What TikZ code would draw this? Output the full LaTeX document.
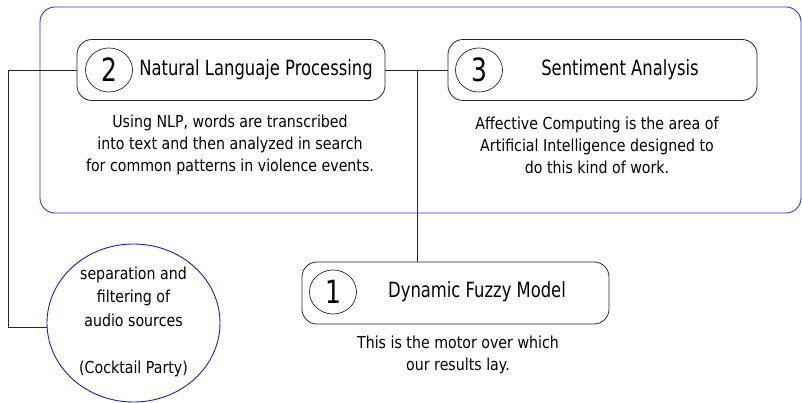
\documentclass[tikz,border=0pt]{standalone}
\usepackage{fontspec}
\setmainfont[FakeStretch=0.78]{DejaVu Sans}
\newfontfamily\descfont[FakeStretch=0.86]{DejaVu Sans}
\usetikzlibrary{shapes.geometric}
\definecolor{frameblue}{RGB}{50,50,200}
\definecolor{circblue}{RGB}{30,30,190}
\tikzset{
  box/.style={draw=black!85, line width=0.8pt, rounded corners=15pt, minimum width=#1, minimum height=61pt, inner sep=0pt},
  numring/.style={draw=black!85, line width=0.7pt, ellipse, minimum width=47pt, minimum height=44pt, inner sep=0pt, font=\fontsize{32}{32}\selectfont},
  title/.style={font=\fontsize{21}{24}\selectfont, inner sep=0pt},
  desc/.style={font=\descfont\fontsize{16.5}{22}\selectfont, align=center, inner sep=0pt},
  wire/.style={draw=black!85, line width=0.8pt},
}
\begin{document}
\begin{tikzpicture}[x=1pt,y=-1pt]
\useasboundingbox (0,0) rectangle (802,403);
% blue frame
\draw[frameblue, line width=0.9pt, rounded corners=15pt] (40,7) rectangle (801,213);
% box 2
\node[box=308pt] (b2) at (231,70) {};
\node[numring] (n2) at (109,70) {2};
\node[title] (t2) at (256,70) {Natural Languaje Processing};
\node[desc] (d2) at (230,145) {Using NLP, words are transcribed\\into text and then analyzed in search\\for common patterns in violence events.};
% box 3
\node[box=309pt] (b3) at (602.5,70) {};
\node[numring] (n3) at (479,70) {3};
\node[title] (t3) at (620,70) {Sentiment Analysis};
\node[desc] (d3) at (597,145) {Affective Computing is the area of\\Artificial Intelligence designed to\\do this kind of work.};
% box 1
\node[box=307pt, minimum height=62pt] (b1) at (455.5,293) {};
\node[numring] (n1) at (333,292) {1};
\node[title] (t1) at (477,292) {Dynamic Fuzzy Model};
\node[desc] (d1) at (458,354.5) {This is the motor over which\\our results lay.};
% circle
\node[draw=circblue, line width=0.9pt, ellipse, minimum width=173pt, minimum height=158pt, inner sep=0pt] (c) at (133.5,323) {};
\node[font=\descfont\fontsize{16.5}{23.5}\selectfont, align=center, inner sep=0pt] (ct) at (133.5,321.5) {separation and\\filtering of\\audio sources\\[23.5pt](Cocktail Party)};
% connectors
\coordinate (j) at (417,70);
\coordinate (l1) at (8,70);
\coordinate (l2) at (8,327);
\draw[wire] (b2.east) -- (b3.west);
\draw[wire] (j) -- (j |- b1.north);
\draw[wire] (b2.west) -- (l1) -- (l2) -- (c.west |- l2);
\end{tikzpicture}
\end{document}
